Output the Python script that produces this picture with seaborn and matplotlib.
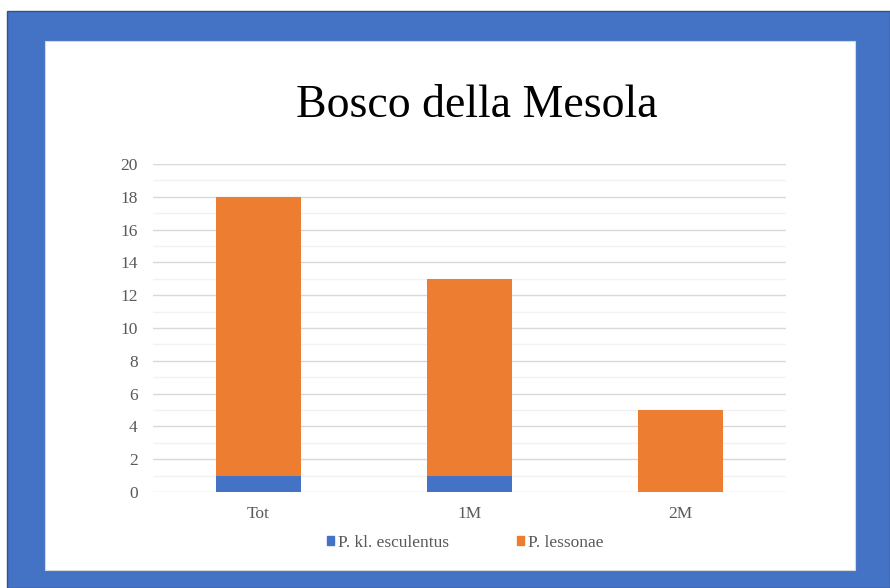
import numpy as np
import pandas as pd
import matplotlib.pyplot as plt
import matplotlib.patches as mpatches
import seaborn as sns

# Data
categories = ['Tot', '1M', '2M']
esculentus = [1, 1, 0]
lessonae = [17, 12, 5]
series_names = ['P. kl. esculentus', 'P. lessonae']

blue = '#4472C4'
orange = '#ED7D31'
grey_text = '#595959'

sns.set_style('white')
plt.rcParams['font.family'] = ['Liberation Serif', 'DejaVu Serif']

df = pd.DataFrame({'cat': categories, 'esc': esculentus, 'les': lessonae})
df['total'] = df['esc'] + df['les']

W, H = 890, 588
fig = plt.figure(figsize=(W / 100, H / 100), dpi=100)
fig.patch.set_facecolor('white')

# blue frame and white inner panel
fig.add_artist(mpatches.Rectangle((7 / W, 0), 1 - 7 / W, (H - 11) / H,
                                  transform=fig.transFigure, facecolor=blue,
                                  edgecolor='#2f528f', lw=1, zorder=0))
fig.add_artist(mpatches.Rectangle((45 / W, (H - 570) / H), (855 - 45) / W, (570 - 41) / H,
                                  transform=fig.transFigure, facecolor='white',
                                  edgecolor='#d9d9d9', lw=0.8, zorder=0))

ax = fig.add_axes([153 / W, (H - 492) / H, (786 - 153) / W, (492 - 164) / H])
ax.set_facecolor('none')

# stacked bars: totals in orange, esculentus drawn over the bottom in blue
sns.barplot(data=df, x='cat', y='total', color=orange, width=0.4,
            saturation=1, linewidth=0, ax=ax, zorder=3)
sns.barplot(data=df, x='cat', y='esc', color=blue, width=0.4,
            saturation=1, linewidth=0, ax=ax, zorder=4)

ax.set_xlim(-0.5, 2.5)
ax.set_ylim(0, 20)
ax.set_yticks(np.arange(0, 21, 2))
ax.set_yticks(np.arange(1, 20, 2), minor=True)
ax.grid(axis='y', which='major', color='#d9d9d9', lw=1, zorder=0)
ax.grid(axis='y', which='minor', color='#f2f2f2', lw=1, zorder=0)
ax.grid(axis='x', visible=False)
for s in ax.spines.values():
    s.set_visible(False)
ax.tick_params(axis='both', which='both', length=0, labelsize=12.5, labelcolor=grey_text)
ax.tick_params(axis='y', pad=11)
ax.tick_params(axis='x', pad=10)
ax.set_xlabel('')
ax.set_ylabel('')

fig.text(477 / W, (H - 106) / H, 'Bosco della Mesola', ha='center', va='center',
         fontsize=33, color='black')

handles = [mpatches.Patch(color=blue, label=series_names[0]),
           mpatches.Patch(color=orange, label=series_names[1])]
leg = fig.legend(handles=handles, loc='center', bbox_to_anchor=(465 / W, (H - 543) / H),
                 ncol=2, frameon=False, fontsize=12.5, handlelength=0.45, handleheight=0.45,
                 handletextpad=0.2, columnspacing=3.9, labelcolor=grey_text)

fig.savefig('out.png', dpi=100)
